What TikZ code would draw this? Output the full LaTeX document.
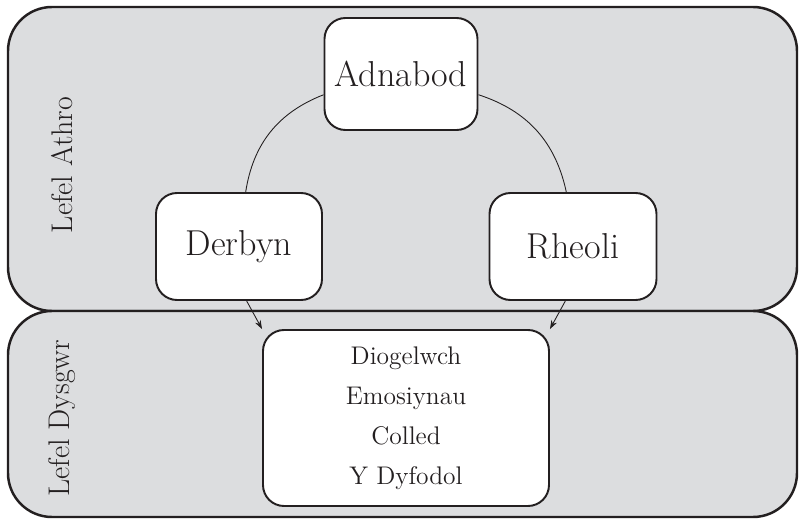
\documentclass[tikz,border=0pt]{standalone}
\usetikzlibrary{arrows.meta}
\definecolor{panelgray}{RGB}{220,221,223}
\definecolor{inkblack}{RGB}{35,31,32}
\tikzset{
  panel/.style={draw=inkblack, line width=1.4pt, fill=panelgray, rounded corners=0.88cm},
  stagebox/.style={draw=inkblack, line width=1.1pt, fill=white, rounded corners=0.42cm,
    inner sep=2pt, text=inkblack, font=\fontsize{20.5}{24}\selectfont},
  sidelabel/.style={rotate=90, text=inkblack, font=\fontsize{17}{20}\selectfont},
  link/.style={line width=0.5pt, inkblack},
  linkarrow/.style={line width=0.5pt, inkblack, -{Stealth[length=5pt,width=3.5pt]}}
}
\begin{document}
\begin{tikzpicture}
  \useasboundingbox (0,0) rectangle (16.04,10.44);

  % Drawing the two levels
  \node[panel, minimum width=15.78cm, minimum height=6.08cm] (athro) at (8.05,7.26) {};
  \node[panel, minimum width=15.78cm, minimum height=4.12cm] (dysgwr) at (8.05,2.16) {};
  \node[sidelabel] (athrolabel) at (1.24,7.14) {Lefel Athro};
  \node[sidelabel] (dysgwrlabel) at (1.24,2.08) {Lefel Dysgwr};

  % Drawing the teacher nodes
  \node[stagebox, minimum width=3.06cm, minimum height=2.24cm] (adnabod) at (8.02,8.96) {Adnabod};
  \node[stagebox, minimum width=3.32cm, minimum height=2.14cm] (derbyn) at (4.78,5.51) {Derbyn};
  \node[stagebox, minimum width=3.34cm, minimum height=2.14cm] (rheoli) at (11.46,5.51) {Rheoli};

  % Drawing the learner node
  \node[stagebox, minimum width=5.72cm, minimum height=3.52cm, align=center,
    font=\fontsize{14.5}{22.7}\selectfont] (dysgwrbox) at (8.12,2.08)
    {Diogelwch\\Emosiynau\\Colled\\Y Dyfodol};

  % Drawing the connectors
  \draw[link] (adnabod.195) to[bend right=30] (derbyn.83);
  \draw[link] (adnabod.-15) to[bend left=30] (rheoli.97);
  \draw[linkarrow] (derbyn.278) -- (dysgwrbox.north west);
  \draw[linkarrow] (rheoli.262) -- (dysgwrbox.north east);
\end{tikzpicture}
\end{document}
